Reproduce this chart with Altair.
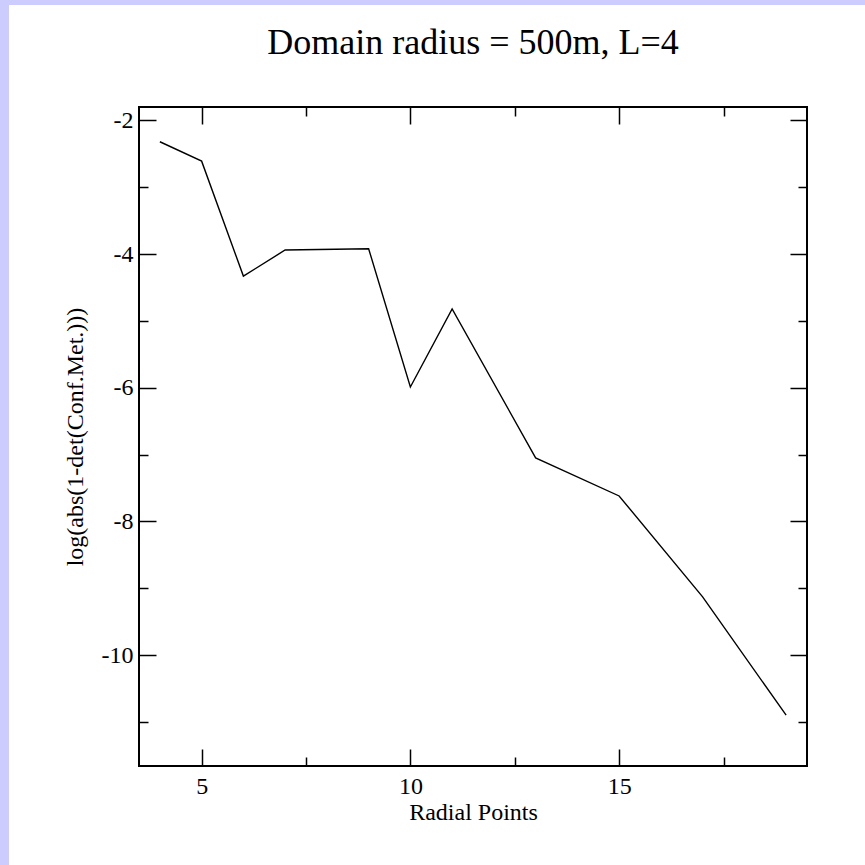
import altair as alt
import pandas as pd

# ---- data ----
radial_points = [4, 5, 6, 7, 9, 10, 11, 13, 15, 17, 19]
log_values = [-2.32, -2.61, -4.33, -3.94, -3.92, -5.99, -4.82, -7.05, -7.62, -9.13, -10.90]

x_major_ticks = [5, 10, 15]
x_minor_ticks = [7.5, 12.5, 17.5]
y_major_ticks = [-10, -8, -6, -4, -2]
y_minor_ticks = [-11, -9, -7, -5, -3]

x_domain = [3.5, 19.5]
y_domain = [-11.66, -1.8]

title_text = "Domain radius = 500m, L=4"
x_title = "Radial Points"
y_title = "log(abs(1-det(Conf.Met.)))"

df = pd.DataFrame({"x": radial_points, "y": log_values})

FONT = "Liberation Serif"
W, H = 668, 659
PAD_L, PAD_T, PAD_R, PAD_B = 139, 107, 58, 99
MAJ, MIN = 17, 9

label_expr = "datum.value < 0 ? '-' + abs(datum.value) : '' + datum.value"

xs = alt.Scale(domain=x_domain, nice=False, zero=False)
ys = alt.Scale(domain=y_domain, nice=False, zero=False)


def ax(orient, values, size, labels=False, title=None, title_pad=2, label_pad=6):
    kw = dict(
        orient=orient, values=values, tickSize=size, offset=-size,
        domain=False, grid=False, ticks=True, tickColor="black",
        tickWidth=1.5, labels=labels, zindex=1,
    )
    if labels:
        kw.update(labelFont=FONT, labelFontSize=24, labelColor="black",
                  labelPadding=label_pad, labelExpr=label_expr)
    if title:
        kw.update(title=title, titleFont=FONT, titleFontSize=24,
                  titleFontWeight="normal", titleColor="black",
                  titlePadding=title_pad)
    else:
        kw.update(title=None)
    return alt.Axis(**kw)


def layer(xaxis, yaxis, visible=False):
    m = alt.Chart(df).mark_line(
        color="black", strokeWidth=1.4, opacity=1 if visible else 0, clip=True
    )
    return m.encode(
        x=alt.X("x:Q", scale=xs, axis=xaxis),
        y=alt.Y("y:Q", scale=ys, axis=yaxis),
    )


main = layer(ax("bottom", x_major_ticks, MAJ, True, x_title, title_pad=2, label_pad=8),
             ax("left", y_major_ticks, MAJ, True, y_title, title_pad=14, label_pad=6),
             visible=True)
top_right_major = layer(ax("top", x_major_ticks, MAJ), ax("right", y_major_ticks, MAJ))
bl_minor = layer(ax("bottom", x_minor_ticks, MIN), ax("left", y_minor_ticks, MIN))
tr_minor = layer(ax("top", x_minor_ticks, MIN), ax("right", y_minor_ticks, MIN))

# decorative lavender strips at the page's left and top edges
strip_df = pd.DataFrame({"k": [0]})
left_strip = alt.Chart(strip_df).mark_rect(color="#ccccff").encode(
    x=alt.value(-PAD_L), x2=alt.value(-PAD_L + 9),
    y=alt.value(-PAD_T), y2=alt.value(H + PAD_B),
)
top_strip = alt.Chart(strip_df).mark_rect(color="#ccccff").encode(
    x=alt.value(-PAD_L), x2=alt.value(W + PAD_R),
    y=alt.value(-PAD_T), y2=alt.value(-PAD_T + 5),
)

chart = (
    alt.layer(left_strip, top_strip, main, top_right_major, bl_minor, tr_minor)
    .resolve_axis(x="independent", y="independent")
    .resolve_scale(x="shared", y="shared")
    .properties(
        width=W, height=H,
        padding={"left": PAD_L, "top": PAD_T, "right": PAD_R, "bottom": PAD_B},
        autosize=alt.AutoSizeParams(type="none"),
        background="white",
        title=alt.TitleParams(
            text=title_text, font=FONT, fontSize=36, fontWeight="normal",
            color="black", anchor="middle", frame="group", baseline="alphabetic",
            offset=-90, zindex=1,
        ),
    )
    .configure_view(stroke="black", strokeWidth=2)
)

chart.save("out.html", embed_options={"renderer": "svg", "actions": False})
